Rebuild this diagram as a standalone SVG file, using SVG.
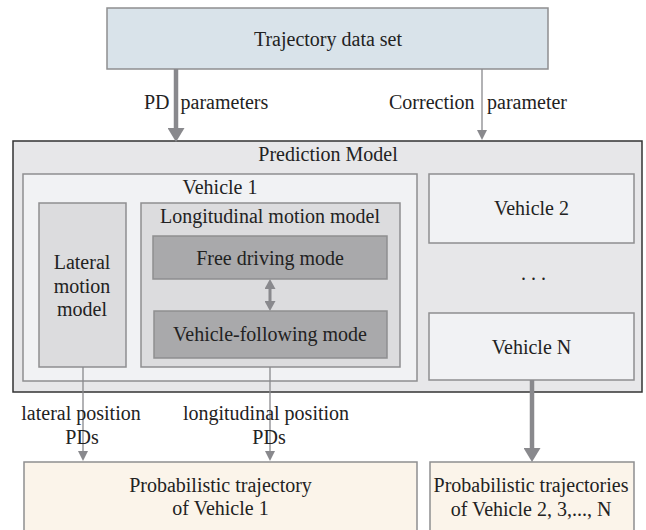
<svg xmlns="http://www.w3.org/2000/svg" width="646" height="530" viewBox="0 0 646 530" font-family="'Liberation Serif', 'Times New Roman', Times, 'DejaVu Serif', serif">
<defs>
<style>
text{font-family:'Liberation Serif','Times New Roman',Times,'DejaVu Serif',serif;font-size:20px;fill:#222;text-anchor:middle}
.lbl{text-anchor:start}
.box{stroke:#8e8e90;stroke-width:1.5}
.top{fill:#d9e3ea}
.pm{fill:#e7e7e9;stroke:#333;stroke-width:1.5}
.light{fill:#f1f2f4}
.mid{fill:#dcdcde}
.dark{fill:#a9a9ab}
.out{fill:#fbf4ea}
.c{fill:none;stroke:#89898d}
.thick{stroke-width:4.5}
.thin{stroke-width:1.3}
.dbl{stroke-width:3}
</style>
<marker id="aT" markerUnits="userSpaceOnUse" markerWidth="14" markerHeight="17" refX="0" refY="8.5" orient="auto"><polygon points="0,0 14,8.5 0,17" fill="#89898d"/></marker>
<marker id="aN" markerUnits="userSpaceOnUse" markerWidth="10" markerHeight="10" refX="0" refY="5" orient="auto"><polygon points="0,0 10,5 0,10" fill="#89898d"/></marker>
<marker id="aD" markerUnits="userSpaceOnUse" markerWidth="10" markerHeight="11" refX="0" refY="5.5" orient="auto-start-reverse"><polygon points="0,0 10,5.5 0,11" fill="#89898d"/></marker>
</defs>

<g id="trajectory-data-set">
<rect class="box top" x="107" y="8" width="441" height="61"/>
<text x="328" y="45.5">Trajectory data set</text>
</g>

<g id="prediction-model">
<rect class="pm" x="13" y="141" width="629" height="251"/>
<text x="328" y="161">Prediction Model</text>
</g>

<g id="vehicle-1">
<rect class="box light" x="23" y="174" width="394" height="207"/>
<text x="220" y="193.5">Vehicle 1</text>
</g>

<g id="lateral-motion-model">
<rect class="box mid" x="39" y="203" width="87" height="164"/>
<text x="82" y="268.5">Lateral</text>
<text x="82" y="292.5">motion</text>
<text x="82" y="315.5">model</text>
</g>

<g id="longitudinal-motion-model">
<rect class="box mid" x="141" y="203" width="259" height="164"/>
<text x="270" y="223">Longitudinal motion model</text>
</g>

<g id="free-driving-mode">
<rect class="box dark" x="153" y="236" width="234" height="43"/>
<text x="270" y="264.5">Free driving mode</text>
</g>

<g id="vehicle-following-mode">
<rect class="box dark" x="154" y="311" width="233" height="47"/>
<text x="270" y="340.5">Vehicle-following mode</text>
</g>

<g id="vehicle-2">
<rect class="box light" x="429" y="174" width="205" height="69"/>
<text x="531.5" y="214.5">Vehicle 2</text>
</g>

<g id="ellipsis">
<text x="536" y="280" style="letter-spacing:5px">...</text>
</g>

<g id="vehicle-n">
<rect class="box light" x="429" y="313" width="205" height="67"/>
<text x="531.5" y="353.5">Vehicle N</text>
</g>

<g id="prob-trajectory-1">
<rect class="box out" x="24" y="462" width="393" height="75"/>
<text x="220.5" y="491.5">Probabilistic trajectory</text>
<text x="220.5" y="514.5">of Vehicle 1</text>
</g>

<g id="prob-trajectories-2-n">
<rect class="box out" x="430" y="462" width="204" height="75"/>
<text x="531" y="491.5">Probabilistic trajectories</text>
<text x="531" y="516">of Vehicle 2, 3,..., N</text>
</g>

<g id="connectors">
<path class="c thick" d="M176,69 V128" marker-end="url(#aT)"/>
<path class="c thin" d="M482,69 V130" marker-end="url(#aN)"/>
<path class="c dbl" d="M270,289 V301" marker-start="url(#aD)" marker-end="url(#aD)"/>
<path class="c thin" d="M83,367 V451" marker-end="url(#aN)"/>
<path class="c thin" d="M270,367 V451" marker-end="url(#aN)"/>
<path class="c thick" d="M532,380 V448" marker-end="url(#aT)"/>
</g>

<g id="labels">
<text class="lbl" x="144" y="108.5">PD <tspan dx="6">parameters</tspan></text>
<text class="lbl" x="389" y="108.5">Correction <tspan dx="7.5">parameter</tspan></text>
<text x="81" y="419.5">lateral position</text>
<text x="82" y="443.5">PDs</text>
<text x="266" y="419.5">longitudinal position</text>
<text x="269" y="443.5">PDs</text>
</g>
</svg>
